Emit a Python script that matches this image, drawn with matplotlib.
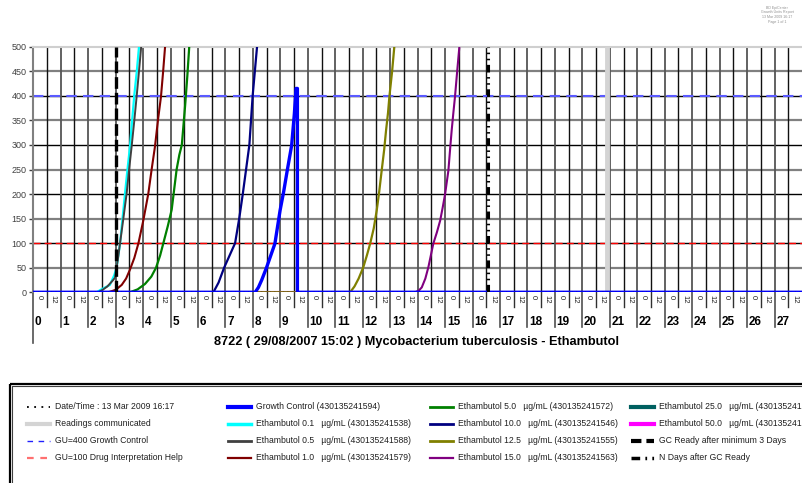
import numpy as np
import matplotlib
matplotlib.use('Agg')
import matplotlib.pyplot as plt
from matplotlib.patches import Rectangle

plt.rcParams['font.family'] = ['Liberation Sans', 'DejaVu Sans']

# ---- data (x = days, y = growth units) ----
gc_days = [0, 8.08, 8.20, 8.32, 8.50, 8.65, 8.80, 8.99, 9.12, 9.25, 9.41, 9.51, 9.57, 9.62, 9.62, 28]
gc_gu = [0, 0, 10, 25, 51, 75, 99, 167, 205, 248, 299, 364, 415, 415, 0, 0]

e01_days = [0, 2.31, 2.45, 2.62, 2.79, 2.95, 3.04, 3.16, 3.25, 3.34, 3.43, 3.52, 3.60, 3.68, 3.77, 3.85]
e01_gu = [0, 0, 5, 10, 15, 35, 52, 100, 150, 201, 250, 296, 350, 402, 450, 500]

e05_days = [0, 2.37, 2.55, 2.70, 2.91, 2.98, 3.02, 3.10, 3.16, 3.28, 3.40, 3.49, 3.58, 3.68, 3.77, 3.85, 3.93]
e05_gu = [0, 0, 6, 12, 25, 30, 45, 75, 100, 150, 201, 250, 296, 350, 402, 450, 500]

e10_days = [0, 2.73, 3.00, 3.22, 3.38, 3.52, 3.68, 3.83, 4.01, 4.19, 4.31, 4.43, 4.54, 4.65, 4.73, 4.80]
e10_gu = [0, 0, 5, 15, 28, 46, 70, 100, 147, 201, 250, 296, 350, 398, 450, 500]

e50_days = [0, 3.52, 3.80, 4.07, 4.30, 4.47, 4.62, 4.76, 4.90, 5.04, 5.22, 5.32, 5.41, 5.53, 5.61, 5.68]
e50_gu = [0, 0, 6, 17, 32, 50, 75, 105, 135, 168, 250, 280, 300, 380, 440, 500]

e100_days = [0, 6.56, 6.75, 6.95, 7.15, 7.35, 7.50, 7.63, 7.75, 7.87, 7.93, 7.99, 8.07, 8.15]
e100_gu = [0, 0, 20, 50, 75, 100, 150, 200, 250, 300, 350, 400, 450, 500]

e125_days = [0, 11.54, 11.70, 11.85, 12.02, 12.15, 12.27, 12.40, 12.51, 12.60, 12.69, 12.78, 12.85, 12.92, 12.97, 13.07, 13.15]
e125_gu = [0, 0, 12, 28, 51, 75, 99, 130, 167, 205, 248, 290, 330, 365, 398, 450, 500]

e150_days = [0, 13.91, 14.05, 14.15, 14.28, 14.39, 14.48, 14.57, 14.70, 14.82, 14.91, 15.00, 15.12, 15.18, 15.24, 15.30, 15.36, 15.44, 15.52]
e150_gu = [0, 0, 4, 10, 28, 51, 75, 99, 122, 146, 172, 200, 248, 290, 330, 365, 398, 450, 500]

e250_days = [0, 28]
e250_gu = [0, 0]
e500_days = [0, 28]
e500_gu = [0, 0]

gc_ready_day = 3.0
n_days_day = 16.58
readings_day = 20.9
gu_gc_level = 400
gu_drug_level = 100

y_ticks = list(range(0, 501, 50))
day_ticks = list(range(0, 28))
hour_labels = ['0', '12']

title = '8722 ( 29/08/2007 15:02 ) Mycobacterium tuberculosis - Ethambutol'

legend_items = [
    ('Date/Time : 13 Mar 2009 16:17', 'black', 1.3, (0, (1, 3))),
    ('Readings communicated', '#d4d4d4', 3, '-'),
    ('GU=400 Growth Control', '#2020ff', 1, (0, (4, 4))),
    ('GU=100 Drug Interpretation Help', '#ff7070', 1.6, (0, (3, 3))),
    ('Growth Control (430135241594)', '#0000ff', 3, '-'),
    ('Ethambutol 0.1   \u00b5g/mL (430135241538)', '#00ffff', 2.5, '-'),
    ('Ethambutol 0.5   \u00b5g/mL (430135241588)', '#404040', 2, '-'),
    ('Ethambutol 1.0   \u00b5g/mL (430135241579)', '#800000', 1.6, '-'),
    ('Ethambutol 5.0   \u00b5g/mL (430135241572)', '#008000', 2, '-'),
    ('Ethambutol 10.0   \u00b5g/mL (430135241546)', '#000080', 2, '-'),
    ('Ethambutol 12.5   \u00b5g/mL (430135241555)', '#808000', 2, '-'),
    ('Ethambutol 15.0   \u00b5g/mL (430135241563)', '#800080', 1.6, '-'),
    ('Ethambutol 25.0   \u00b5g/mL (430135241597)', '#006060', 3, '-'),
    ('Ethambutol 50.0   \u00b5g/mL (430135241506)', '#ff00ff', 3, '-'),
    ('GC Ready after minimum 3 Days', 'black', 3, (0, (2.5, 1.2))),
    ('N Days after GC Ready', 'black', 2.5, (0, (2.5, 1.5, 0.5, 1.5, 0.5, 1.5))),
]

W, H = 802, 483
fig = plt.figure(figsize=(W / 100, H / 100), dpi=100)
ax = fig.add_axes([33.3 / W, (H - 292.3) / H, 1 - 33.3 / W, 245.6 / H])
ax.set_xlim(0, 28)
ax.set_ylim(0, 500)

# grid
for v in y_ticks[1:-1]:
    if v % 100 == 0:
        ax.axhline(v, color='black', lw=1, zorder=1)
    else:
        ax.axhline(v, color='#808080', lw=1.6, zorder=1)
for d in np.arange(0, 28, 0.5):
    if d % 1 == 0:
        ax.axvline(d, color='#555555', lw=1.3, zorder=1)
    else:
        ax.axvline(d, color='#101010', lw=1, zorder=1)

ax.axhline(gu_gc_level, color='#5a5aff', lw=1.5, dashes=(5, 3), zorder=2)
ax.axhline(gu_drug_level, color='#ff0000', lw=1, dashes=(5, 3), zorder=2)

ax.axvline(readings_day, color='#d4d4d4', lw=3.5, zorder=3)
ax.axvline(gc_ready_day, color='black', lw=2.4, dashes=(3.5, 1.2), zorder=6)
ax.axvline(n_days_day, color='black', lw=2.2,
           dashes=(2.5, 1.5, 0.5, 1.5, 0.5, 1.5), zorder=6)

# growth curves
ax.plot(e250_days, e250_gu, color='#006060', lw=2.2, zorder=4)
ax.plot(e500_days, e500_gu, color='#ff00ff', lw=2.2, zorder=4)
ax.plot(e150_days, e150_gu, color='#800080', lw=1.5, zorder=4)
ax.plot(e125_days, e125_gu, color='#808000', lw=1.6, zorder=4)
ax.plot(e100_days, e100_gu, color='#000080', lw=1.6, zorder=4)
ax.plot(e50_days, e50_gu, color='#008000', lw=1.6, zorder=4)
ax.plot(e10_days, e10_gu, color='#800000', lw=1.5, zorder=4)
ax.plot(e01_days, e01_gu, color='#00ffff', lw=1.6, zorder=4)
ax.plot(e05_days, e05_gu, color='#404040', lw=1.4, zorder=4)
ax.plot(gc_days, gc_gu, color='#0000ff', lw=2.4, zorder=5, solid_joinstyle='round')
ax.axhline(0, color='black', lw=0.9, dashes=(1, 2.5), zorder=6)

# axes frame
ax.spines['right'].set_visible(False)
ax.spines['bottom'].set_visible(False)
ax.spines['top'].set_color('#cfcfcf')
ax.spines['top'].set_linewidth(1.5)
ax.spines['left'].set_color('#808080')
ax.spines['left'].set_linewidth(1.5)
ax.set_yticks(y_ticks)
ax.tick_params(axis='y', length=3, width=1, color='#404040', labelsize=6.5,
               labelcolor='#404040', pad=2)
ax.set_xticks([])

# hour / day labels under the axis
tr = ax.get_xaxis_transform()
for d in day_ticks:
    ext = -0.205 if d == 0 else -0.142
    ax.plot([d, d], [0, ext], transform=tr, clip_on=False, color='#505050', lw=1.2)
    ax.plot([d + 0.5, d + 0.5], [0, -0.06], transform=tr, clip_on=False,
            color='#303030', lw=1)
    ax.text(d + 0.06, -0.12, str(d), transform=tr, ha='left', va='center',
            fontsize=8.5, fontweight='bold', family=['Liberation Sans Narrow', 'Liberation Sans'])
    for k, lab in enumerate(hour_labels):
        ax.text(d + 0.5 * k + 0.1, -0.012, lab, transform=tr, ha='left', va='top',
                rotation=-90, fontsize=5.5, color='#202020')

fig.text(417 / W, 1 - 342 / H, title, ha='center', va='center',
         fontsize=9.2, fontweight='bold')

# tiny header text, top right
for i, s in enumerate(['BD EpiCenter', 'Growth Units Report', '13 Mar 2009 16:17', 'Page 1 of 1']):
    fig.text(777 / W, 1 - (8 + i * 4.5) / H, s, ha='center', va='center',
             fontsize=2.6, color='#909090')

# legend panel in pixel coordinates
lax = fig.add_axes([0, 0, 1, 1])
lax.set_xlim(0, W)
lax.set_ylim(H, 0)
lax.axis('off')
lax.add_patch(Rectangle((9.5, 383.5), 900, 200, fill=False, lw=1.6, ec='black'))
lax.add_patch(Rectangle((12, 386), 900, 200, fill=False, lw=0.8, ec='#404040'))
for i, (lab, col, lw, ls) in enumerate(legend_items):
    c, r = divmod(i, 4)
    x0 = 27 + c * 201.4
    y0 = 406.5 + r * 17
    lax.plot([x0, x0 + 23], [y0, y0], color=col, lw=lw, linestyle=ls)
    lax.text(x0 + 28, y0, lab, ha='left', va='center', fontsize=6.2, color='#202020')

fig.savefig('out.png', dpi=100)
